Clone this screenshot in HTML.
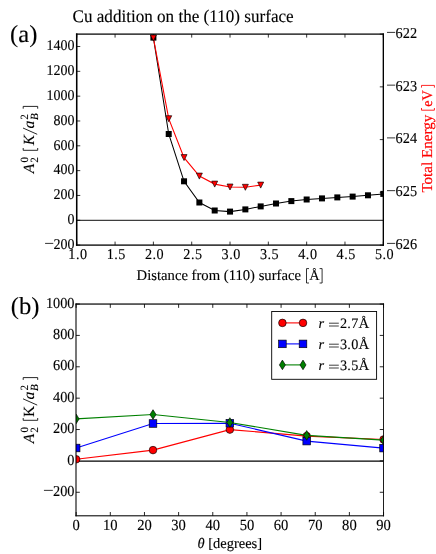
<!DOCTYPE html>
<html><head><meta charset="utf-8"><title>figure</title>
<style>html,body{margin:0;padding:0;background:#fff;}body{width:436px;height:554px;overflow:hidden;font-family:"Liberation Serif",serif;}svg{display:block;}text.k{stroke:#000;stroke-width:0.12px;}</style>
</head><body>
<div style="will-change:transform;width:436px;height:554px">
<svg width="436" height="554" viewBox="0 0 436 554" font-family='"Liberation Serif", serif' style="text-rendering:geometricPrecision">
<rect width="436" height="554" fill="#fff"/>
<defs><clipPath id="ca"><rect x="76.75" y="34.1" width="306.55" height="211.0"/></clipPath><clipPath id="cb"><rect x="76.0" y="304.05" width="307.55" height="211.74999999999994"/></clipPath></defs>
<line x1="76.75" x2="76.75" y1="245.1" y2="241.6" stroke="#000" stroke-width="0.8"/>
<line x1="76.75" x2="76.75" y1="34.1" y2="37.6" stroke="#000" stroke-width="0.8"/>
<text class="k" transform="translate(77.95,258.70) scale(1,1.06)" font-size="14.2" text-anchor="middle" fill="#000" letter-spacing="0.5" style="">1.0</text>
<line x1="115.07" x2="115.07" y1="245.1" y2="241.6" stroke="#000" stroke-width="0.8"/>
<line x1="115.07" x2="115.07" y1="34.1" y2="37.6" stroke="#000" stroke-width="0.8"/>
<text class="k" transform="translate(116.27,258.70) scale(1,1.06)" font-size="14.2" text-anchor="middle" fill="#000" letter-spacing="0.5" style="">1.5</text>
<line x1="153.39" x2="153.39" y1="245.1" y2="241.6" stroke="#000" stroke-width="0.8"/>
<line x1="153.39" x2="153.39" y1="34.1" y2="37.6" stroke="#000" stroke-width="0.8"/>
<text class="k" transform="translate(154.59,258.70) scale(1,1.06)" font-size="14.2" text-anchor="middle" fill="#000" letter-spacing="0.5" style="">2.0</text>
<line x1="191.71" x2="191.71" y1="245.1" y2="241.6" stroke="#000" stroke-width="0.8"/>
<line x1="191.71" x2="191.71" y1="34.1" y2="37.6" stroke="#000" stroke-width="0.8"/>
<text class="k" transform="translate(192.91,258.70) scale(1,1.06)" font-size="14.2" text-anchor="middle" fill="#000" letter-spacing="0.5" style="">2.5</text>
<line x1="230.03" x2="230.03" y1="245.1" y2="241.6" stroke="#000" stroke-width="0.8"/>
<line x1="230.03" x2="230.03" y1="34.1" y2="37.6" stroke="#000" stroke-width="0.8"/>
<text class="k" transform="translate(231.22,258.70) scale(1,1.06)" font-size="14.2" text-anchor="middle" fill="#000" letter-spacing="0.5" style="">3.0</text>
<line x1="268.34" x2="268.34" y1="245.1" y2="241.6" stroke="#000" stroke-width="0.8"/>
<line x1="268.34" x2="268.34" y1="34.1" y2="37.6" stroke="#000" stroke-width="0.8"/>
<text class="k" transform="translate(269.54,258.70) scale(1,1.06)" font-size="14.2" text-anchor="middle" fill="#000" letter-spacing="0.5" style="">3.5</text>
<line x1="306.66" x2="306.66" y1="245.1" y2="241.6" stroke="#000" stroke-width="0.8"/>
<line x1="306.66" x2="306.66" y1="34.1" y2="37.6" stroke="#000" stroke-width="0.8"/>
<text class="k" transform="translate(307.86,258.70) scale(1,1.06)" font-size="14.2" text-anchor="middle" fill="#000" letter-spacing="0.5" style="">4.0</text>
<line x1="344.98" x2="344.98" y1="245.1" y2="241.6" stroke="#000" stroke-width="0.8"/>
<line x1="344.98" x2="344.98" y1="34.1" y2="37.6" stroke="#000" stroke-width="0.8"/>
<text class="k" transform="translate(346.18,258.70) scale(1,1.06)" font-size="14.2" text-anchor="middle" fill="#000" letter-spacing="0.5" style="">4.5</text>
<line x1="383.30" x2="383.30" y1="245.1" y2="241.6" stroke="#000" stroke-width="0.8"/>
<line x1="383.30" x2="383.30" y1="34.1" y2="37.6" stroke="#000" stroke-width="0.8"/>
<text class="k" transform="translate(384.50,258.70) scale(1,1.06)" font-size="14.2" text-anchor="middle" fill="#000" letter-spacing="0.5" style="">5.0</text>
<line x1="76.75" x2="80.25" y1="245.10" y2="245.10" stroke="#000" stroke-width="0.8"/>
<text class="k" transform="translate(74.48,248.90) scale(1,1.06)" font-size="14.0" text-anchor="end" fill="#000"  style="">200</text>
<line x1="45.08" x2="53.28" y1="243.40" y2="243.40" stroke="#000" stroke-width="0.8"/>
<line x1="76.75" x2="80.25" y1="220.28" y2="220.28" stroke="#000" stroke-width="0.8"/>
<text class="k" transform="translate(74.48,224.08) scale(1,1.06)" font-size="14.0" text-anchor="end" fill="#000"  style="">0</text>
<line x1="76.75" x2="80.25" y1="195.45" y2="195.45" stroke="#000" stroke-width="0.8"/>
<text class="k" transform="translate(74.48,199.25) scale(1,1.06)" font-size="14.0" text-anchor="end" fill="#000"  style="">200</text>
<line x1="76.75" x2="80.25" y1="170.63" y2="170.63" stroke="#000" stroke-width="0.8"/>
<text class="k" transform="translate(74.48,174.43) scale(1,1.06)" font-size="14.0" text-anchor="end" fill="#000"  style="">400</text>
<line x1="76.75" x2="80.25" y1="145.81" y2="145.81" stroke="#000" stroke-width="0.8"/>
<text class="k" transform="translate(74.48,149.61) scale(1,1.06)" font-size="14.0" text-anchor="end" fill="#000"  style="">600</text>
<line x1="76.75" x2="80.25" y1="120.98" y2="120.98" stroke="#000" stroke-width="0.8"/>
<text class="k" transform="translate(74.48,124.78) scale(1,1.06)" font-size="14.0" text-anchor="end" fill="#000"  style="">800</text>
<line x1="76.75" x2="80.25" y1="96.16" y2="96.16" stroke="#000" stroke-width="0.8"/>
<text class="k" transform="translate(74.48,99.96) scale(1,1.06)" font-size="14.0" text-anchor="end" fill="#000"  style="">1000</text>
<line x1="76.75" x2="80.25" y1="71.34" y2="71.34" stroke="#000" stroke-width="0.8"/>
<text class="k" transform="translate(74.48,75.14) scale(1,1.06)" font-size="14.0" text-anchor="end" fill="#000"  style="">1200</text>
<line x1="76.75" x2="80.25" y1="46.51" y2="46.51" stroke="#000" stroke-width="0.8"/>
<text class="k" transform="translate(74.48,50.31) scale(1,1.06)" font-size="14.0" text-anchor="end" fill="#000"  style="">1400</text>
<line x1="383.3" x2="379.8" y1="245.10" y2="245.10" stroke="#000" stroke-width="0.8"/>
<line x1="387.00" x2="395.20" y1="243.40" y2="243.40" stroke="#000" stroke-width="0.8"/>
<text class="k" transform="translate(395.60,248.90) scale(1,1.06)" font-size="14.3" text-anchor="start" fill="#000"  style="">626</text>
<line x1="383.3" x2="379.8" y1="192.35" y2="192.35" stroke="#000" stroke-width="0.8"/>
<line x1="387.00" x2="395.20" y1="190.65" y2="190.65" stroke="#000" stroke-width="0.8"/>
<text class="k" transform="translate(395.60,196.15) scale(1,1.06)" font-size="14.3" text-anchor="start" fill="#000"  style="">625</text>
<line x1="383.3" x2="379.8" y1="139.60" y2="139.60" stroke="#000" stroke-width="0.8"/>
<line x1="387.00" x2="395.20" y1="137.90" y2="137.90" stroke="#000" stroke-width="0.8"/>
<text class="k" transform="translate(395.60,143.40) scale(1,1.06)" font-size="14.3" text-anchor="start" fill="#000"  style="">624</text>
<line x1="383.3" x2="379.8" y1="86.85" y2="86.85" stroke="#000" stroke-width="0.8"/>
<line x1="387.00" x2="395.20" y1="85.15" y2="85.15" stroke="#000" stroke-width="0.8"/>
<text class="k" transform="translate(395.60,90.65) scale(1,1.06)" font-size="14.3" text-anchor="start" fill="#000"  style="">623</text>
<line x1="383.3" x2="379.8" y1="34.10" y2="34.10" stroke="#000" stroke-width="0.8"/>
<line x1="387.00" x2="395.20" y1="32.40" y2="32.40" stroke="#000" stroke-width="0.8"/>
<text class="k" transform="translate(395.60,37.90) scale(1,1.06)" font-size="14.3" text-anchor="start" fill="#000"  style="">622</text>
<g clip-path="url(#ca)">
<line x1="76.75" x2="383.3" y1="220.3" y2="220.3" stroke="#000" stroke-width="0.95"/>
<polyline points="153.39,37.60 168.72,134.00 184.04,181.30 199.37,202.50 214.70,210.50 230.03,211.60 245.35,209.40 260.68,206.40 276.01,203.50 291.34,201.10 306.66,199.50 321.99,198.40 337.32,197.40 352.64,196.60 367.97,195.30 383.30,193.90" fill="none" stroke="#000" stroke-width="1.05"/>
<rect x="150.39" y="34.60" width="6.0" height="6.0" fill="#000"/>
<rect x="165.72" y="131.00" width="6.0" height="6.0" fill="#000"/>
<rect x="181.04" y="178.30" width="6.0" height="6.0" fill="#000"/>
<rect x="196.37" y="199.50" width="6.0" height="6.0" fill="#000"/>
<rect x="211.70" y="207.50" width="6.0" height="6.0" fill="#000"/>
<rect x="227.03" y="208.60" width="6.0" height="6.0" fill="#000"/>
<rect x="242.35" y="206.40" width="6.0" height="6.0" fill="#000"/>
<rect x="257.68" y="203.40" width="6.0" height="6.0" fill="#000"/>
<rect x="273.01" y="200.50" width="6.0" height="6.0" fill="#000"/>
<rect x="288.34" y="198.10" width="6.0" height="6.0" fill="#000"/>
<rect x="303.66" y="196.50" width="6.0" height="6.0" fill="#000"/>
<rect x="318.99" y="195.40" width="6.0" height="6.0" fill="#000"/>
<rect x="334.32" y="194.40" width="6.0" height="6.0" fill="#000"/>
<rect x="349.64" y="193.60" width="6.0" height="6.0" fill="#000"/>
<rect x="364.97" y="192.30" width="6.0" height="6.0" fill="#000"/>
<rect x="380.30" y="190.90" width="6.0" height="6.0" fill="#000"/>
<polyline points="153.39,38.00 168.72,118.70 184.04,157.60 199.37,176.10 214.70,184.10 230.03,187.00 245.35,187.30 260.68,185.10" fill="none" stroke="#f00" stroke-width="1.1"/>
<path d="M150.39,35.00 L156.39,35.00 L153.39,41.00 Z" fill="#f00" stroke="#000" stroke-width="0.65"/>
<path d="M165.72,115.70 L171.72,115.70 L168.72,121.70 Z" fill="#f00" stroke="#000" stroke-width="0.65"/>
<path d="M181.04,154.60 L187.04,154.60 L184.04,160.60 Z" fill="#f00" stroke="#000" stroke-width="0.65"/>
<path d="M196.37,173.10 L202.37,173.10 L199.37,179.10 Z" fill="#f00" stroke="#000" stroke-width="0.65"/>
<path d="M211.70,181.10 L217.70,181.10 L214.70,187.10 Z" fill="#f00" stroke="#000" stroke-width="0.65"/>
<path d="M227.03,184.00 L233.03,184.00 L230.03,190.00 Z" fill="#f00" stroke="#000" stroke-width="0.65"/>
<path d="M242.35,184.30 L248.35,184.30 L245.35,190.30 Z" fill="#f00" stroke="#000" stroke-width="0.65"/>
<path d="M257.68,182.10 L263.68,182.10 L260.68,188.10 Z" fill="#f00" stroke="#000" stroke-width="0.65"/>
</g>
<rect x="75.95" y="33.45" width="1.55" height="212.3" fill="#000"/>
<rect x="382.65" y="33.45" width="1.35" height="212.3" fill="#000"/>
<rect x="75.95" y="33.48" width="308.05" height="1.25" fill="#000"/>
<rect x="75.95" y="244.45" width="308.05" height="1.3" fill="#000"/>
<text class="k" transform="translate(72.50,22.20) scale(1,1.04)" font-size="17.1" text-anchor="start" fill="#000" textLength="221.2" lengthAdjust="spacingAndGlyphs" style="">Cu addition on the (110) surface</text>
<text class="k" x="10.10" y="41.50" font-size="24.6" text-anchor="start" fill="#000"  style="">(a)</text>
<text class="k" transform="translate(136.60,279.50) scale(1,1.03)" font-size="14.5" text-anchor="start" fill="#000" textLength="164.4" lengthAdjust="spacingAndGlyphs" style="">Distance from (110) surface</text>
<path d="M309.0,268.6 H306.5 V283.0 H309.0 M319.6,268.6 H322.1 V283.0 H319.6" fill="none" stroke="#000" stroke-width="0.8"/>
<text class="k" x="309.30" y="279.50" font-size="14.5" text-anchor="start" fill="#000" textLength="10.4" lengthAdjust="spacingAndGlyphs" style="">Å</text>
<g transform="translate(431.8,192.4) rotate(-90)">
<text x="-0.20" y="0.00" font-size="15.1" text-anchor="start" fill="#f00" stroke="#f00" stroke-width="0.2" style="">Total Energy</text>
<path d="M84.4,-10.3 H82.2 V2.6 H84.4 M104.8,-10.3 H107.0 V2.6 H104.8" fill="none" stroke="#f00" stroke-width="0.85"/>
<text x="85.70" y="0.00" font-size="14.6" text-anchor="start" fill="#f00" stroke="#f00" stroke-width="0.2" textLength="16.6" lengthAdjust="spacingAndGlyphs" style="">eV</text>
</g>
<g transform="translate(34.0,173.6) rotate(-90)">
<text class="k" x="0.30" y="0.00" font-size="15.5" text-anchor="start" fill="#000"  style="font-style:italic">A</text>
<text class="k" x="10.90" y="4.10" font-size="11.0" text-anchor="start" fill="#000"  style="">2</text>
<text class="k" x="11.10" y="-6.50" font-size="11.0" text-anchor="start" fill="#000"  style="">0</text>
<path d="M25.6,-10.8 L23.3,-10.8 L23.3,3.7 L25.6,3.7" fill="none" stroke="#000" stroke-width="0.85"/>
<text class="k" x="28.40" y="0.00" font-size="15.5" text-anchor="start" fill="#000" textLength="10.2" lengthAdjust="spacingAndGlyphs" style="font-style:italic">K</text>
<line x1="39.3" y1="3.2" x2="45.6" y2="-11.0" stroke="#000" stroke-width="0.85"/>
<text class="k" x="45.00" y="0.00" font-size="15.5" text-anchor="start" fill="#000"  style="font-style:italic">a</text>
<text class="k" x="53.90" y="-6.50" font-size="11.0" text-anchor="start" fill="#000"  style="">2</text>
<text class="k" x="53.50" y="4.10" font-size="11.0" text-anchor="start" fill="#000"  style="font-style:italic">B</text>
<path d="M64.9,-10.8 L67.2,-10.8 L67.2,3.7 L64.9,3.7" fill="none" stroke="#000" stroke-width="0.85"/>
</g>
<line x1="76.15" x2="76.15" y1="515.8" y2="511.99999999999994" stroke="#000" stroke-width="0.85"/>
<line x1="76.15" x2="76.15" y1="304.05" y2="307.85" stroke="#000" stroke-width="0.85"/>
<text class="k" transform="translate(76.15,530.00) scale(1,1.06)" font-size="14.6" text-anchor="middle" fill="#000"  style="">0</text>
<line x1="110.31" x2="110.31" y1="515.8" y2="511.99999999999994" stroke="#000" stroke-width="0.85"/>
<line x1="110.31" x2="110.31" y1="304.05" y2="307.85" stroke="#000" stroke-width="0.85"/>
<text class="k" transform="translate(110.31,530.00) scale(1,1.06)" font-size="14.6" text-anchor="middle" fill="#000"  style="">10</text>
<line x1="144.46" x2="144.46" y1="515.8" y2="511.99999999999994" stroke="#000" stroke-width="0.85"/>
<line x1="144.46" x2="144.46" y1="304.05" y2="307.85" stroke="#000" stroke-width="0.85"/>
<text class="k" transform="translate(144.46,530.00) scale(1,1.06)" font-size="14.6" text-anchor="middle" fill="#000"  style="">20</text>
<line x1="178.62" x2="178.62" y1="515.8" y2="511.99999999999994" stroke="#000" stroke-width="0.85"/>
<line x1="178.62" x2="178.62" y1="304.05" y2="307.85" stroke="#000" stroke-width="0.85"/>
<text class="k" transform="translate(178.62,530.00) scale(1,1.06)" font-size="14.6" text-anchor="middle" fill="#000"  style="">30</text>
<line x1="212.77" x2="212.77" y1="515.8" y2="511.99999999999994" stroke="#000" stroke-width="0.85"/>
<line x1="212.77" x2="212.77" y1="304.05" y2="307.85" stroke="#000" stroke-width="0.85"/>
<text class="k" transform="translate(212.77,530.00) scale(1,1.06)" font-size="14.6" text-anchor="middle" fill="#000"  style="">40</text>
<line x1="246.93" x2="246.93" y1="515.8" y2="511.99999999999994" stroke="#000" stroke-width="0.85"/>
<line x1="246.93" x2="246.93" y1="304.05" y2="307.85" stroke="#000" stroke-width="0.85"/>
<text class="k" transform="translate(246.93,530.00) scale(1,1.06)" font-size="14.6" text-anchor="middle" fill="#000"  style="">50</text>
<line x1="281.08" x2="281.08" y1="515.8" y2="511.99999999999994" stroke="#000" stroke-width="0.85"/>
<line x1="281.08" x2="281.08" y1="304.05" y2="307.85" stroke="#000" stroke-width="0.85"/>
<text class="k" transform="translate(281.08,530.00) scale(1,1.06)" font-size="14.6" text-anchor="middle" fill="#000"  style="">60</text>
<line x1="315.24" x2="315.24" y1="515.8" y2="511.99999999999994" stroke="#000" stroke-width="0.85"/>
<line x1="315.24" x2="315.24" y1="304.05" y2="307.85" stroke="#000" stroke-width="0.85"/>
<text class="k" transform="translate(315.24,530.00) scale(1,1.06)" font-size="14.6" text-anchor="middle" fill="#000"  style="">70</text>
<line x1="349.39" x2="349.39" y1="515.8" y2="511.99999999999994" stroke="#000" stroke-width="0.85"/>
<line x1="349.39" x2="349.39" y1="304.05" y2="307.85" stroke="#000" stroke-width="0.85"/>
<text class="k" transform="translate(349.39,530.00) scale(1,1.06)" font-size="14.6" text-anchor="middle" fill="#000"  style="">80</text>
<line x1="383.55" x2="383.55" y1="515.8" y2="511.99999999999994" stroke="#000" stroke-width="0.85"/>
<line x1="383.55" x2="383.55" y1="304.05" y2="307.85" stroke="#000" stroke-width="0.85"/>
<text class="k" transform="translate(383.55,530.00) scale(1,1.06)" font-size="14.6" text-anchor="middle" fill="#000"  style="">90</text>
<line x1="76.0" x2="79.8" y1="492.27" y2="492.27" stroke="#000" stroke-width="0.85"/>
<line x1="383.55" x2="379.75" y1="492.27" y2="492.27" stroke="#000" stroke-width="0.85"/>
<text class="k" transform="translate(74.49,495.87) scale(1,1.06)" font-size="14.3" text-anchor="end" fill="#000"  style="">200</text>
<line x1="43.94" x2="52.84" y1="490.37" y2="490.37" stroke="#000" stroke-width="0.8"/>
<line x1="76.0" x2="79.8" y1="460.90" y2="460.90" stroke="#000" stroke-width="0.85"/>
<line x1="383.55" x2="379.75" y1="460.90" y2="460.90" stroke="#000" stroke-width="0.85"/>
<text class="k" transform="translate(74.49,464.50) scale(1,1.06)" font-size="14.3" text-anchor="end" fill="#000"  style="">0</text>
<line x1="76.0" x2="79.8" y1="429.53" y2="429.53" stroke="#000" stroke-width="0.85"/>
<line x1="383.55" x2="379.75" y1="429.53" y2="429.53" stroke="#000" stroke-width="0.85"/>
<text class="k" transform="translate(74.49,433.13) scale(1,1.06)" font-size="14.3" text-anchor="end" fill="#000"  style="">200</text>
<line x1="76.0" x2="79.8" y1="398.16" y2="398.16" stroke="#000" stroke-width="0.85"/>
<line x1="383.55" x2="379.75" y1="398.16" y2="398.16" stroke="#000" stroke-width="0.85"/>
<text class="k" transform="translate(74.49,401.76) scale(1,1.06)" font-size="14.3" text-anchor="end" fill="#000"  style="">400</text>
<line x1="76.0" x2="79.8" y1="366.79" y2="366.79" stroke="#000" stroke-width="0.85"/>
<line x1="383.55" x2="379.75" y1="366.79" y2="366.79" stroke="#000" stroke-width="0.85"/>
<text class="k" transform="translate(74.49,370.39) scale(1,1.06)" font-size="14.3" text-anchor="end" fill="#000"  style="">600</text>
<line x1="76.0" x2="79.8" y1="335.42" y2="335.42" stroke="#000" stroke-width="0.85"/>
<line x1="383.55" x2="379.75" y1="335.42" y2="335.42" stroke="#000" stroke-width="0.85"/>
<text class="k" transform="translate(74.49,339.02) scale(1,1.06)" font-size="14.3" text-anchor="end" fill="#000"  style="">800</text>
<line x1="76.0" x2="79.8" y1="304.05" y2="304.05" stroke="#000" stroke-width="0.85"/>
<line x1="383.55" x2="379.75" y1="304.05" y2="304.05" stroke="#000" stroke-width="0.85"/>
<text class="k" transform="translate(74.49,307.65) scale(1,1.06)" font-size="14.3" text-anchor="end" fill="#000"  style="">1000</text>
<g clip-path="url(#cb)">
<line x1="76.0" x2="383.55" y1="461.1" y2="461.1" stroke="#000" stroke-width="1.2"/>
<polyline points="76.15,459.30 153.00,450.10 229.85,429.60 306.70,436.10 383.55,439.50" fill="none" stroke="#f00" stroke-width="1.1"/>
<circle cx="76.15" cy="459.30" r="3.8" fill="#f00" stroke="#000" stroke-width="0.65"/>
<circle cx="153.00" cy="450.10" r="3.8" fill="#f00" stroke="#000" stroke-width="0.65"/>
<circle cx="229.85" cy="429.60" r="3.8" fill="#f00" stroke="#000" stroke-width="0.65"/>
<circle cx="306.70" cy="436.10" r="3.8" fill="#f00" stroke="#000" stroke-width="0.65"/>
<circle cx="383.55" cy="439.50" r="3.8" fill="#f00" stroke="#000" stroke-width="0.65"/>
<polyline points="76.15,448.00 153.00,423.50 229.85,423.20 306.70,441.10 383.55,448.10" fill="none" stroke="#00f" stroke-width="1.1"/>
<rect x="72.35" y="444.20" width="7.6" height="7.6" fill="#00f" stroke="#000" stroke-width="0.65"/>
<rect x="149.20" y="419.70" width="7.6" height="7.6" fill="#00f" stroke="#000" stroke-width="0.65"/>
<rect x="226.05" y="419.40" width="7.6" height="7.6" fill="#00f" stroke="#000" stroke-width="0.65"/>
<rect x="302.90" y="437.30" width="7.6" height="7.6" fill="#00f" stroke="#000" stroke-width="0.65"/>
<rect x="379.75" y="444.30" width="7.6" height="7.6" fill="#00f" stroke="#000" stroke-width="0.65"/>
<polyline points="76.15,418.90 153.00,414.50 229.85,422.50 306.70,435.40 383.55,440.10" fill="none" stroke="#008000" stroke-width="1.1"/>
<path d="M76.15,414.10 L79.15,418.90 L76.15,423.70 L73.15,418.90 Z" fill="#008000" stroke="#000" stroke-width="0.65"/>
<path d="M153.00,409.70 L156.00,414.50 L153.00,419.30 L150.00,414.50 Z" fill="#008000" stroke="#000" stroke-width="0.65"/>
<path d="M229.85,417.70 L232.85,422.50 L229.85,427.30 L226.85,422.50 Z" fill="#008000" stroke="#000" stroke-width="0.65"/>
<path d="M306.70,430.60 L309.70,435.40 L306.70,440.20 L303.70,435.40 Z" fill="#008000" stroke="#000" stroke-width="0.65"/>
<path d="M383.55,435.30 L386.55,440.10 L383.55,444.90 L380.55,440.10 Z" fill="#008000" stroke="#000" stroke-width="0.65"/>
</g>
<rect x="75.47" y="303.45" width="1.06" height="212.9" fill="#000"/>
<rect x="383.08" y="303.45" width="0.88" height="212.9" fill="#000"/>
<rect x="75.47" y="303.45" width="308.58" height="1.2" fill="#000"/>
<rect x="75.47" y="515.28" width="308.58" height="1.05" fill="#000"/>
<text class="k" x="10.70" y="313.80" font-size="24.6" text-anchor="start" fill="#000"  style="">(b)</text>
<text class="k" x="197.4" y="548.2" font-size="14.5"><tspan font-style="italic">θ</tspan> [degrees]</text>
<g transform="translate(34.0,443.6) rotate(-90)">
<text class="k" x="0.30" y="0.00" font-size="15.5" text-anchor="start" fill="#000"  style="font-style:italic">A</text>
<text class="k" x="10.90" y="4.10" font-size="11.0" text-anchor="start" fill="#000"  style="">2</text>
<text class="k" x="11.10" y="-6.50" font-size="11.0" text-anchor="start" fill="#000"  style="">0</text>
<path d="M25.6,-10.8 L23.3,-10.8 L23.3,3.7 L25.6,3.7" fill="none" stroke="#000" stroke-width="0.85"/>
<text class="k" x="26.60" y="0.00" font-size="15.5" text-anchor="start" fill="#000"  style="">K</text>
<line x1="38.5" y1="3.2" x2="44.8" y2="-11.0" stroke="#000" stroke-width="0.85"/>
<text class="k" x="44.00" y="0.00" font-size="15.5" text-anchor="start" fill="#000"  style="font-style:italic">a</text>
<text class="k" x="53.00" y="-6.50" font-size="11.0" text-anchor="start" fill="#000"  style="">2</text>
<text class="k" x="52.60" y="4.10" font-size="11.0" text-anchor="start" fill="#000"  style="font-style:italic">B</text>
<path d="M63.7,-10.8 L66.0,-10.8 L66.0,3.7 L63.7,3.7" fill="none" stroke="#000" stroke-width="0.85"/>
</g>
<rect x="271.7" y="311.5" width="104.90000000000003" height="67.80000000000001" fill="#fff" stroke="#000" stroke-width="0.9"/>
<line x1="282.4" x2="303.0" y1="322.9" y2="322.9" stroke="#f00" stroke-width="1.1"/>
<circle cx="282.40" cy="322.90" r="3.8" fill="#f00" stroke="#000" stroke-width="0.65"/>
<circle cx="303.00" cy="322.90" r="3.8" fill="#f00" stroke="#000" stroke-width="0.65"/>
<text class="k" x="318.60" y="327.60" font-size="14.4" text-anchor="start" fill="#000"  style="font-style:italic">r</text>
<path d="M329.0,323.20 H338.8 M329.0,326.00 H338.8" stroke="#000" stroke-width="0.75" fill="none"/>
<text class="k" transform="translate(339.90,327.60) scale(1,1.02)" font-size="14.2" text-anchor="start" fill="#000" textLength="18.4" lengthAdjust="spacing" style="">2.7</text>
<text class="k" x="358.50" y="327.60" font-size="14.9" text-anchor="start" fill="#000"  style="">Å</text>
<line x1="282.4" x2="303.0" y1="343.9" y2="343.9" stroke="#00f" stroke-width="1.1"/>
<rect x="278.60" y="340.10" width="7.6" height="7.6" fill="#00f" stroke="#000" stroke-width="0.65"/>
<rect x="299.20" y="340.10" width="7.6" height="7.6" fill="#00f" stroke="#000" stroke-width="0.65"/>
<text class="k" x="318.60" y="348.60" font-size="14.4" text-anchor="start" fill="#000"  style="font-style:italic">r</text>
<path d="M329.0,344.20 H338.8 M329.0,347.00 H338.8" stroke="#000" stroke-width="0.75" fill="none"/>
<text class="k" transform="translate(339.90,348.60) scale(1,1.02)" font-size="14.2" text-anchor="start" fill="#000" textLength="18.4" lengthAdjust="spacing" style="">3.0</text>
<text class="k" x="358.50" y="348.60" font-size="14.9" text-anchor="start" fill="#000"  style="">Å</text>
<line x1="282.4" x2="303.0" y1="364.9" y2="364.9" stroke="#008000" stroke-width="1.1"/>
<path d="M282.40,360.10 L285.40,364.90 L282.40,369.70 L279.40,364.90 Z" fill="#008000" stroke="#000" stroke-width="0.65"/>
<path d="M303.00,360.10 L306.00,364.90 L303.00,369.70 L300.00,364.90 Z" fill="#008000" stroke="#000" stroke-width="0.65"/>
<text class="k" x="318.60" y="369.60" font-size="14.4" text-anchor="start" fill="#000"  style="font-style:italic">r</text>
<path d="M329.0,365.20 H338.8 M329.0,368.00 H338.8" stroke="#000" stroke-width="0.75" fill="none"/>
<text class="k" transform="translate(339.90,369.60) scale(1,1.02)" font-size="14.2" text-anchor="start" fill="#000" textLength="18.4" lengthAdjust="spacing" style="">3.5</text>
<text class="k" x="358.50" y="369.60" font-size="14.9" text-anchor="start" fill="#000"  style="">Å</text>
</svg>
</div>
</body></html>
